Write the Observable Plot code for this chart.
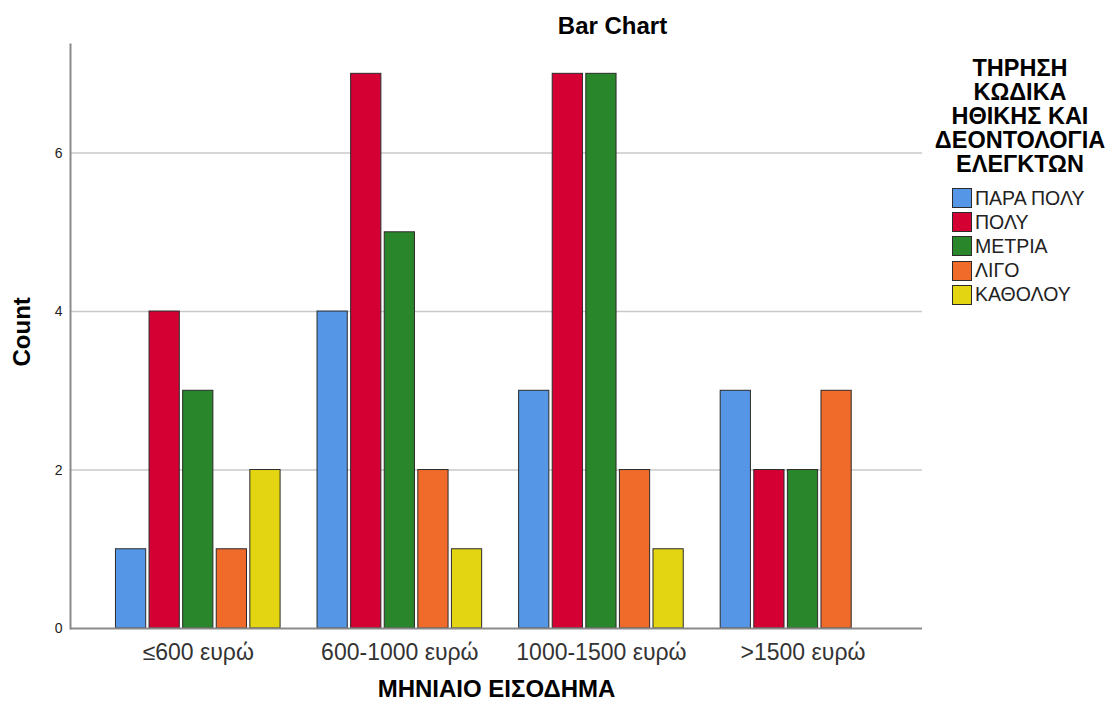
<!DOCTYPE html>
<html>
<head>
<meta charset="utf-8">
<script src="https://cdn.jsdelivr.net/npm/d3@7"></script>
<script src="https://cdn.jsdelivr.net/npm/@observablehq/plot@0.6"></script>
<style>
  html, body { margin: 0; padding: 0; background: #fff; }
  #chart { position: relative; width: 1110px; height: 708px; font-family: "Liberation Sans", Arial, sans-serif; }
  #legend { position: absolute; left: 930px; top: 55.5px; width: 180px; }
  #legend .ttl { font-weight: bold; font-size: 23.5px; line-height: 24px; text-align: center; color: #000; width: 180px; white-space: nowrap; }
  #legend .items { margin-top: 10.5px; margin-left: 22px; }
  #legend .it { display: flex; align-items: center; height: 24.2px; font-size: 19.5px; color: #222; white-space: nowrap; }
  #legend .sw { width: 20px; height: 20px; border: 1.5px solid #2b2b2b; margin-right: 3px; box-sizing: border-box; flex: none; }
</style>
</head>
<body>
<div id="chart"></div>
<script>
// Monthly income groups (x) and compliance ratings (series)
const groups = ["≤600 ευρώ", "600-1000 ευρώ", "1000-1500 ευρώ", ">1500 ευρώ"];
const ratings = ["ΠΑΡΑ ΠΟΛΥ", "ΠΟΛΥ", "ΜΕΤΡΙΑ", "ΛΙΓΟ", "ΚΑΘΟΛΟΥ"];
const colors = ["#5596e6", "#d40034", "#2a862a", "#f06a2a", "#e3d512"];

// Counts per rating, one entry per income group
const paraPoly = [1, 4, 3, 3];
const poly     = [4, 7, 7, 2];
const metria   = [3, 5, 7, 2];
const ligo     = [1, 2, 2, 3];
const katholou = [2, 1, 1, 0];

const yTicks = [0, 2, 4, 6];
const legendTitle = ["ΤΗΡΗΣΗ", "ΚΩΔΙΚΑ", "ΗΘΙΚΗΣ ΚΑΙ", "ΔΕΟΝΤΟΛΟΓΙΑ", "ΕΛΕΓΚΤΩΝ"];

const series = [paraPoly, poly, metria, ligo, katholou];
const rows = [];
groups.forEach((g, gi) => ratings.forEach((r, ri) => rows.push({group: g, rating: r, count: series[ri][gi]})));

// one band per (group, rating) slot, with an empty spacer slot between groups
const key = (g, r) => g + "|" + r;
const slots = [];
groups.forEach((g, gi) => {
  ratings.forEach(r => slots.push(key(g, r)));
  if (gi < groups.length - 1) slots.push("gap" + gi);
});
const mid = ratings[2];
const slotLabel = k => {
  const [g, r] = k.split("|");
  return r === mid ? g : "";
};

const plot = Plot.plot({
  width: 1110,
  height: 708,
  marginLeft: 70,
  marginRight: 188,
  marginTop: 44,
  marginBottom: 80,
  style: {fontFamily: "Liberation Sans, Arial, sans-serif", background: "#fff"},
  x: {domain: slots, type: "band", paddingInner: 0.1, paddingOuter: 1.23, align: 0.55, round: false},
  y: {domain: [0, 7.37]},
  color: {domain: ratings, range: colors},
  marks: [
    Plot.ruleY([2, 4, 6], {stroke: "#c8c8c8", strokeWidth: 1.5}),
    Plot.barY(rows.filter(d => d.count > 0), {
      x: d => key(d.group, d.rating),
      y: "count",
      fill: "rating",
      stroke: "#2b2b2b",
      strokeWidth: 1
    }),
    Plot.ruleY([0], {stroke: "#8a8a8a", strokeWidth: 2}),
    Plot.frame({anchor: "left", stroke: "#8a8a8a", strokeWidth: 2}),
    Plot.axisY({ticks: yTicks, tickSize: 0, tickPadding: 8, fontSize: 14, label: null, color: "#222"}),
    Plot.axisX({tickSize: 0, tickPadding: 15, tickFormat: slotLabel, fontSize: 23, label: null, color: "#333"}),
    Plot.text(["Count"], {frameAnchor: "left", dx: -48, dy: 30, rotate: -90, fontSize: 24, fontWeight: "bold", fill: "#000"}),
    Plot.text(["ΜΗΝΙΑΙΟ ΕΙΣΟΔΗΜΑ"], {frameAnchor: "bottom", dy: 68, fontSize: 24, fontWeight: "bold", fill: "#000"}),
    Plot.text(["Bar Chart"], {frameAnchor: "top", dx: 116, dy: -28, fontSize: 24, fontWeight: "bold", fill: "#000"})
  ]
});

const root = document.getElementById("chart");
root.appendChild(plot);

// legend: title block followed by one swatch per rating
const lg = document.createElement("div");
lg.id = "legend";
lg.innerHTML = `<div class="ttl">${legendTitle.join("<br>")}</div>` +
  `<div class="items">` +
  ratings.map((r, i) => `<div class="it"><span class="sw" style="background:${colors[i]}"></span>${r}</div>`).join("") +
  `</div>`;
root.appendChild(lg);
</script>
</body>
</html>
